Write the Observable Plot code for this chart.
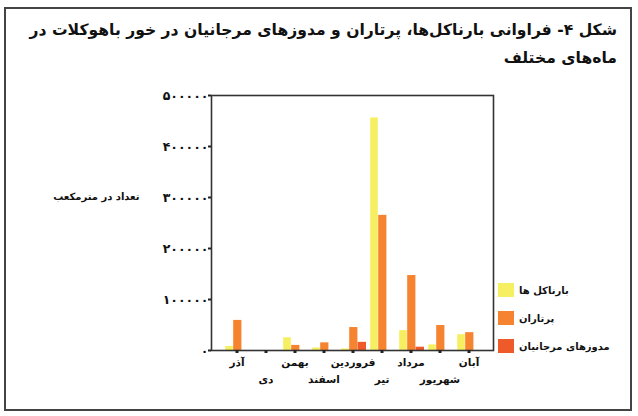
<!DOCTYPE html>
<html>
<head>
<meta charset="utf-8">
<script src="https://cdn.jsdelivr.net/npm/d3@7"></script>
<script src="https://cdn.jsdelivr.net/npm/@observablehq/plot@0.6"></script>
<style>
  html, body { margin: 0; padding: 0; background: #fff; }
  #wrap { position: relative; width: 638px; height: 416px; overflow: hidden; background: #fff; font-family: "DejaVu Sans", sans-serif; }
  #border { position: absolute; left: 4px; top: 7px; width: 628px; height: 404px; border: 2px solid #444; box-sizing: border-box; }
  #title { position: absolute; right: 21px; top: 16px; width: 610px; direction: rtl; text-align: right; font-weight: bold; font-size: 15.6px; line-height: 28px; color: #111; white-space: nowrap; }
  #chart { position: absolute; left: 0; top: 80px; }
  #legend { position: absolute; left: 498px; top: 283px; direction: ltr; }
  .item { display: flex; align-items: center; height: 14px; margin-bottom: 14px; }
  .sw { width: 16px; height: 14px; margin-right: 5px; }
  .lab { direction: rtl; font-size: 10px; font-weight: bold; color: #111; }
</style>
</head>
<body>
<div id="wrap">
  <div id="border"></div>
  <div id="title"></div>
  <div id="chart"></div>
  <div id="legend"></div>
</div>
<script>
const titleLines = ["شکل ۴- فراوانی بارناکل‌ها، پرتاران و مدوزهای مرجانیان در خور باهوکلات در", "ماه‌های مختلف"];
const yLabel = "تعداد در مترمکعب";
const months = ["آذر", "دی", "بهمن", "اسفند", "فروردین", "تیر", "مرداد", "شهریور", "آبان"];
const seriesNames = ["بارناکل ها", "پرتاران", "مدوزهای مرجانیان"];
const barnacles = [8000, 0, 25000, 5000, 3000, 456000, 39000, 11000, 31000];
const polychaetes = [59000, 0, 10000, 15000, 45000, 265000, 147000, 49000, 35000];
const medusae = [0, 0, 0, 0, 16000, 0, 6500, 0, 0];
const yTicks = [0, 100000, 200000, 300000, 400000, 500000];
const colors = ["#f7ef62", "#f5832f", "#ef5a2a"];

const seriesValues = [barnacles, polychaetes, medusae];
const data = [];
seriesNames.forEach((s, si) => months.forEach((m, mi) => data.push({series: s, month: m, value: seriesValues[si][mi]})));

const fa = n => String(n).replace(/\d/g, d => "۰۱۲۳۴۵۶۷۸۹"[d]);

document.getElementById("title").innerHTML = titleLines.join("<br>");

// insets place the three series side by side inside each month band
const insets = [[3.2, 18.2], [11.2, 9.6], [19.6, 1.0]];

const marks = [];
seriesNames.forEach((s, si) => {
  marks.push(Plot.barY(data.filter(d => d.series === s && d.value > 0), {
    x: "month", y: "value", fill: colors[si],
    insetLeft: insets[si][0], insetRight: insets[si][1]
  }));
});

const even = months.filter((d, i) => i % 2 === 0);
const odd = months.filter((d, i) => i % 2 === 1);

const plot = Plot.plot({
  width: 638,
  height: 320,
  marginLeft: 211,
  marginRight: 145,
  marginTop: 15,
  marginBottom: 50,
  style: {fontFamily: "DejaVu Sans", color: "#111", background: "transparent"},
  x: {domain: months, paddingInner: 0, paddingOuter: 0.33, axis: null},
  y: {domain: [0, 500000], axis: null},
  marks: [
    ...marks,
    Plot.frame({stroke: "#333", strokeWidth: 1.6}),
    Plot.axisY({ticks: yTicks, tickFormat: fa, tickSize: 3, tickPadding: 0, fontSize: 12.5, fontWeight: "bold", label: null, stroke: "#222", strokeWidth: 2, style: "letter-spacing:2.2px"}),
    Plot.axisX({ticks: even, tickSize: 3, tickPadding: 5, fontSize: 10.5, fontWeight: "bold", label: null, stroke: "#222", strokeWidth: 3}),
    Plot.axisX({ticks: odd, tickSize: 3, tickPadding: 22, fontSize: 10.5, fontWeight: "bold", label: null, stroke: "#222", strokeWidth: 3}),
    Plot.text([yLabel], {frameAnchor: "left", dx: -72, dy: -26, textAnchor: "end", fontSize: 10, fontWeight: "bold", fill: "#111"})
  ]
});
document.getElementById("chart").appendChild(plot);

const legend = document.getElementById("legend");
seriesNames.forEach((s, i) => {
  const it = document.createElement("div");
  it.className = "item";
  it.innerHTML = `<div class="sw" style="background:${colors[i]}"></div><div class="lab">${s}</div>`;
  legend.appendChild(it);
});
</script>
</body>
</html>
